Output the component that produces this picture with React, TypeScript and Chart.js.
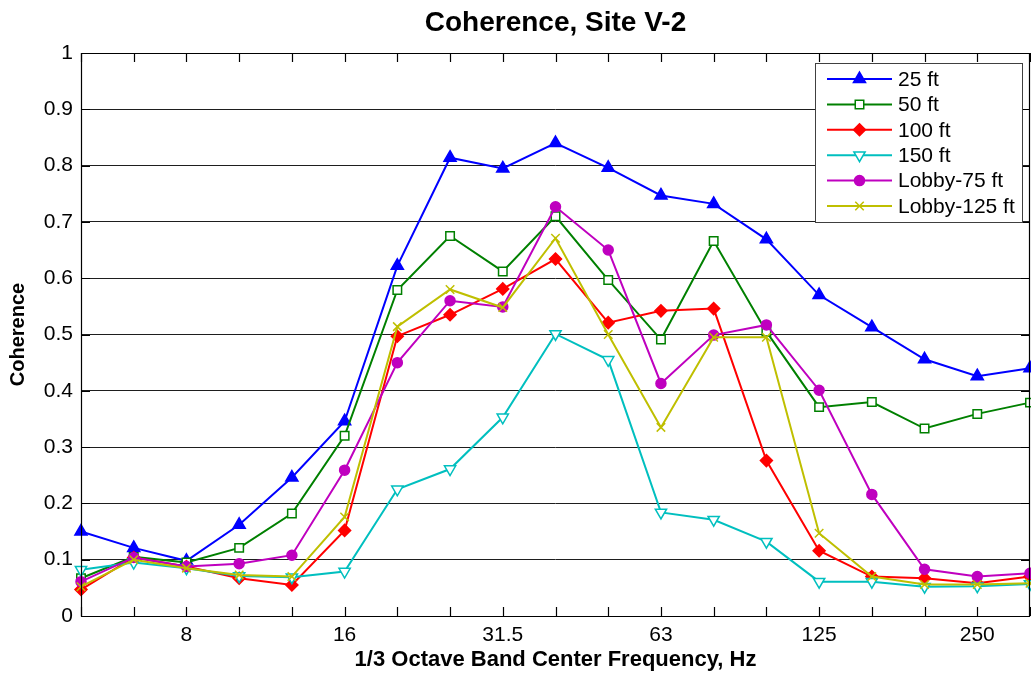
import React, { useEffect, useRef } from "react";
import { Chart, registerables } from "chart.js";
import { drawPoint } from "chart.js/helpers";

Chart.register(...registerables);

// 1/3 octave band centre frequencies, Hz
const bands = ["5", "6.3", "8", "10", "12.5", "16", "20", "25", "31.5", "40", "50", "63", "80", "100", "125", "160", "200", "250", "315"];
// bands that get a printed tick label
const labeledBands = ["8", "16", "31.5", "63", "125", "250"];

// coherence per band for each measurement pair
const ft25 = [0.150, 0.121, 0.098, 0.162, 0.246, 0.346, 0.622, 0.814, 0.795, 0.840, 0.796, 0.747, 0.732, 0.669, 0.570, 0.513, 0.456, 0.426, 0.440];
const ft50 = [0.067, 0.105, 0.095, 0.121, 0.182, 0.320, 0.579, 0.675, 0.612, 0.710, 0.597, 0.491, 0.666, 0.505, 0.371, 0.380, 0.333, 0.359, 0.379];
const ft100 = [0.047, 0.104, 0.088, 0.067, 0.055, 0.152, 0.497, 0.535, 0.581, 0.634, 0.521, 0.542, 0.546, 0.276, 0.116, 0.070, 0.067, 0.058, 0.070];
const ft150 = [0.082, 0.095, 0.085, 0.071, 0.069, 0.079, 0.225, 0.261, 0.353, 0.501, 0.455, 0.184, 0.171, 0.132, 0.061, 0.061, 0.052, 0.053, 0.057];
const lobby75 = [0.061, 0.104, 0.088, 0.093, 0.108, 0.259, 0.450, 0.560, 0.549, 0.727, 0.650, 0.413, 0.499, 0.517, 0.401, 0.216, 0.083, 0.070, 0.076];
const lobby125 = [0.052, 0.100, 0.085, 0.073, 0.070, 0.176, 0.514, 0.580, 0.548, 0.671, 0.500, 0.335, 0.495, 0.495, 0.147, 0.070, 0.056, 0.056, 0.058];

const seriesNames = ["25 ft", "50 ft", "100 ft", "150 ft", "Lobby-75 ft", "Lobby-125 ft"];

const FONT = "Arial, 'Liberation Sans', Helvetica, sans-serif";

type Style = { color: string; pointStyle: string; radius: number; rotation: number; filled: boolean };
const styles: Style[] = [
  { color: "#0000FF", pointStyle: "triangle", radius: 7, rotation: 0, filled: true },
  { color: "#008000", pointStyle: "rect", radius: 6, rotation: 0, filled: false },
  { color: "#FF0000", pointStyle: "rectRot", radius: 6, rotation: 0, filled: true },
  { color: "#00BFBF", pointStyle: "triangle", radius: 6.5, rotation: 180, filled: false },
  { color: "#BF00BF", pointStyle: "circle", radius: 5, rotation: 0, filled: true },
  { color: "#BFBF00", pointStyle: "crossRot", radius: 6, rotation: 0, filled: false },
];

// box outline plus inward-pointing tick marks on all four sides
const frameTicks = {
  id: "frameTicks",
  afterDatasetsDraw(chart: any) {
    const { ctx, chartArea } = chart;
    const { left, right, top, bottom } = chartArea;
    const xs = chart.scales.x;
    const ys = chart.scales.y;
    const len = 9;
    ctx.save();
    ctx.strokeStyle = "#000";
    ctx.lineWidth = 1.2;
    ctx.beginPath();
    ctx.rect(Math.round(left) + 0.5, Math.round(top) + 0.5, Math.round(right - left) - 1, Math.round(bottom - top));
    ctx.stroke();
    ctx.beginPath();
    xs.ticks.forEach((_t: any, i: number) => {
      const px = Math.round(xs.getPixelForTick(i)) + 0.5;
      ctx.moveTo(px, bottom);
      ctx.lineTo(px, bottom - len);
      ctx.moveTo(px, top);
      ctx.lineTo(px, top + len);
    });
    ys.ticks.forEach((_t: any, i: number) => {
      const py = Math.round(ys.getPixelForTick(i)) + 0.5;
      ctx.moveTo(left, py);
      ctx.lineTo(left + len, py);
      ctx.moveTo(right, py);
      ctx.lineTo(right - len, py);
    });
    ctx.stroke();
    ctx.restore();
  },
};

// legend box in the upper right of the plot, line sample with marker per series
const boxedLegend = {
  id: "boxedLegend",
  afterDraw(chart: any) {
    const { ctx } = chart;
    const x0 = 815;
    const y0 = 63;
    const w = 207;
    const h = 159;
    ctx.save();
    ctx.fillStyle = "#fff";
    ctx.fillRect(x0, y0, w, h);
    ctx.strokeStyle = "#404040";
    ctx.lineWidth = 1;
    ctx.strokeRect(x0 + 0.5, y0 + 0.5, w, h);
    chart.data.datasets.forEach((ds: any, i: number) => {
      const st = styles[i];
      const y = y0 + 16 + i * 25.4;
      ctx.strokeStyle = st.color;
      ctx.lineWidth = 2;
      ctx.beginPath();
      ctx.moveTo(827, y);
      ctx.lineTo(892, y);
      ctx.stroke();
      ctx.fillStyle = st.filled ? st.color : "#fff";
      ctx.strokeStyle = st.color;
      ctx.lineWidth = 1.5;
      drawPoint(ctx, { pointStyle: st.pointStyle as any, radius: st.radius, rotation: st.rotation, borderWidth: 1.5 }, 859.5, y);
      ctx.fillStyle = "#000";
      ctx.font = `21px ${FONT}`;
      ctx.textAlign = "left";
      ctx.textBaseline = "middle";
      ctx.fillText(ds.label, 898, y + 1);
    });
    ctx.restore();
  },
};

export default function App() {
  const canvasRef = useRef<HTMLCanvasElement | null>(null);

  useEffect(() => {
    if (!canvasRef.current) return;
    const series = [ft25, ft50, ft100, ft150, lobby75, lobby125];
    const chart = new Chart(canvasRef.current, {
      type: "line",
      data: {
        labels: bands,
        datasets: series.map((values, i) => ({
          label: seriesNames[i],
          data: values,
          borderColor: styles[i].color,
          backgroundColor: styles[i].filled ? styles[i].color : "#fff",
          pointBackgroundColor: styles[i].filled ? styles[i].color : "#fff",
          pointBorderColor: styles[i].color,
          pointStyle: styles[i].pointStyle as any,
          pointRotation: styles[i].rotation,
          pointRadius: styles[i].radius,
          pointBorderWidth: 1.5,
          borderWidth: 2,
          tension: 0,
          fill: false,
          clip: false as any,
          order: series.length - i,
        })),
      },
      options: {
        responsive: false,
        animation: false,
        events: [],
        layout: { autoPadding: false, padding: { top: 0, right: 1, bottom: 0, left: 0 } },
        plugins: {
          legend: { display: false },
          tooltip: { enabled: false },
          title: {
            display: true,
            text: "Coherence, Site V-2",
            fullSize: false,
            color: "#000",
            font: { family: FONT, size: 28, weight: "bold", lineHeight: 1.2 },
            padding: { top: 6, bottom: 13.4 },
          },
        },
        scales: {
          x: {
            type: "category",
            offset: false,
            // tick marks themselves are drawn by frameTicks; tickLength only spaces the labels
            grid: { display: false, drawTicks: true, tickLength: 7 },
            border: { display: false },
            ticks: {
              autoSkip: false,
              maxRotation: 0,
              color: "#000",
              padding: 0,
              font: { family: FONT, size: 21 },
              callback: function (this: any, _v: any, index: number) {
                const lab = bands[index];
                return labeledBands.includes(lab) ? lab : "";
              },
            },
            title: {
              display: true,
              text: "1/3 Octave Band Center Frequency, Hz",
              color: "#000",
              font: { family: FONT, size: 22, weight: "bold", lineHeight: 1.2 },
              padding: { top: 0, bottom: 8 },
            },
            afterFit: (scale: any) => {
              scale.height = 65;
              scale.paddingLeft = 0;
              scale.paddingRight = 0;
            },
          },
          y: {
            min: 0,
            max: 1,
            grid: { color: "#1e1e1e", lineWidth: 1, drawTicks: false },
            border: { display: false },
            ticks: {
              stepSize: 0.1,
              color: "#000",
              padding: 8,
              font: { family: FONT, size: 21 },
              callback: (v: any) => {
                const n = Number(v);
                if (Math.abs(n) < 1e-9) return "0";
                if (Math.abs(n - 1) < 1e-9) return "1";
                return n.toFixed(1);
              },
            },
            title: {
              display: true,
              text: "Coherence",
              color: "#000",
              font: { family: FONT, size: 20, weight: "bold", lineHeight: 1.2 },
              padding: { top: 6, bottom: 0 },
            },
            afterFit: (scale: any) => {
              scale.width = 81;
            },
          },
        },
      },
      plugins: [frameTicks, boxedLegend],
    });
    return () => chart.destroy();
  }, []);

  return (
    <div style={{ position: "absolute", left: 0, top: 0, width: 1031, height: 681, background: "#fff" }}>
      <canvas ref={canvasRef} width={1031} height={681} style={{ display: "block", width: 1031, height: 681 }} />
    </div>
  );
}
